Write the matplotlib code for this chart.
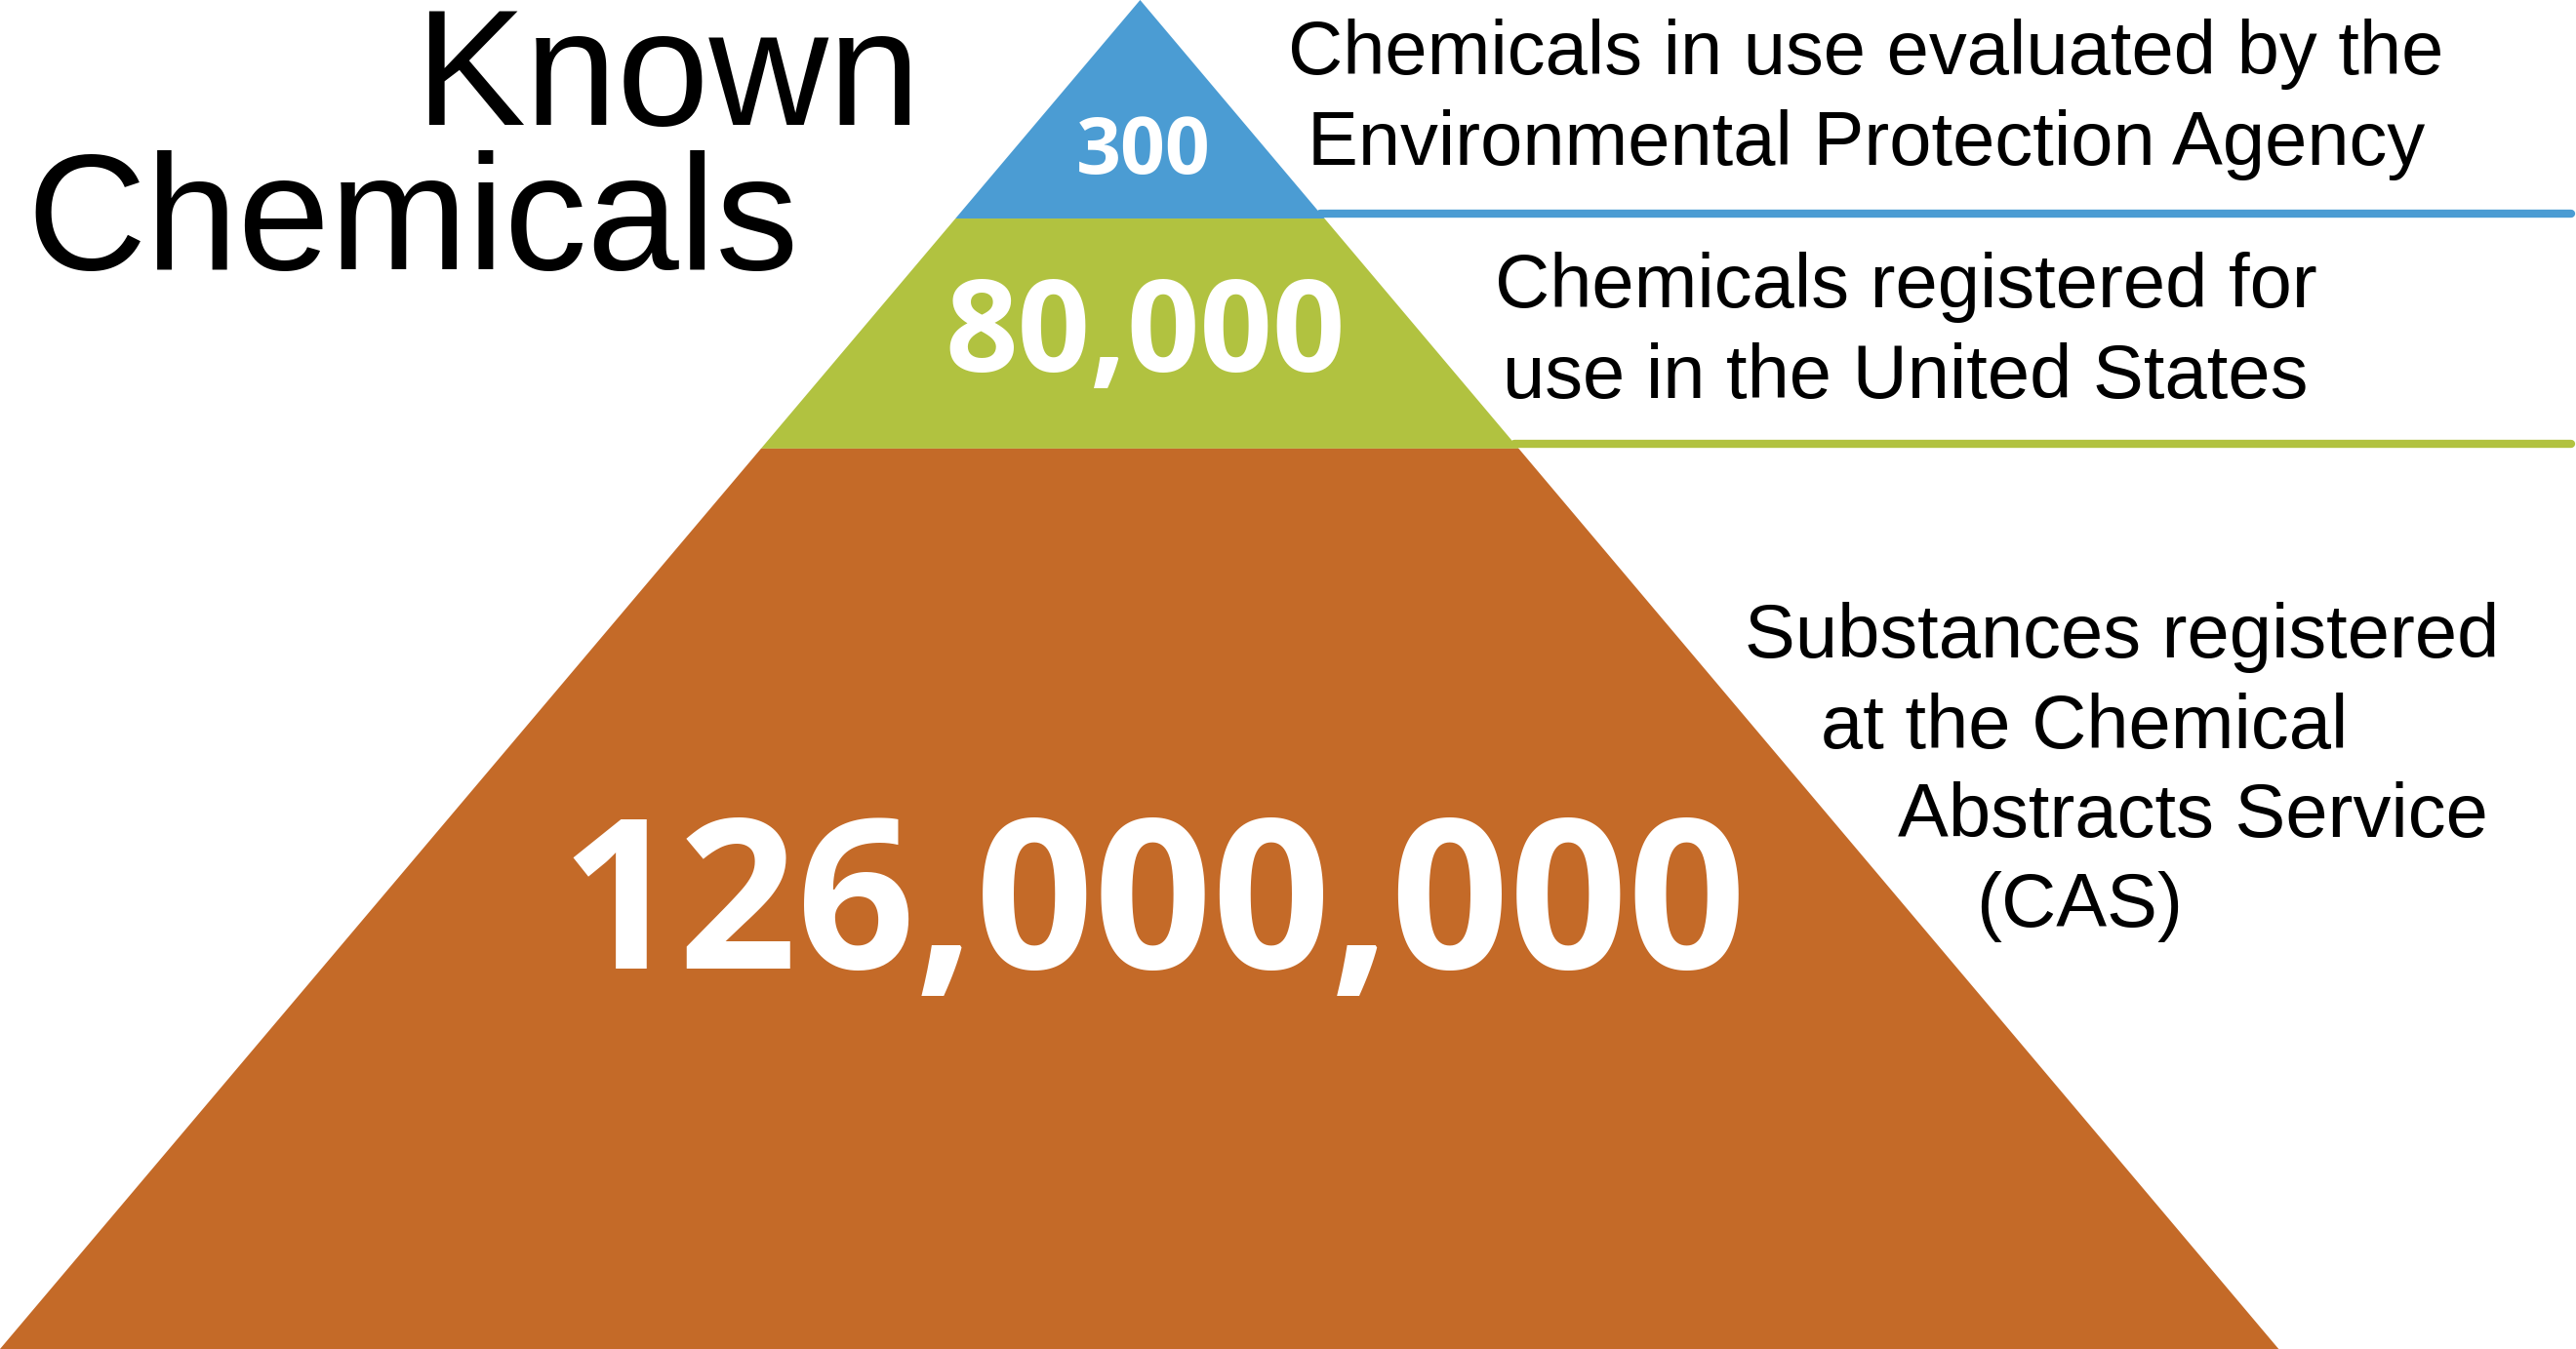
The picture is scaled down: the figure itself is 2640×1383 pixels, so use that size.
import matplotlib.pyplot as plt
from matplotlib.patches import Polygon

# tiers from top to bottom
counts = ['300', '80,000', '126,000,000']
descriptions = [['Chemicals in use evaluated by the', 'Environmental Protection Agency'],
                ['Chemicals registered for', 'use in the United States'],
                ['Substances registered', 'at the Chemical', 'Abstracts Service', '(CAS)']]
colors = ['#4b9cd3', '#b1c240', '#c46a28']
tier_bottoms = [133, 273, 821]   # y of each tier's lower edge (image units, y down)

apex = (694, 0)
base_l, base_r = 0, 1387
H = 821

def edge_x(y):
    t = y / H
    return apex[0] + (base_l - apex[0]) * t, apex[0] + (base_r - apex[0]) * t

fig = plt.figure(figsize=(26.4, 13.83), dpi=100)
ax = fig.add_axes([0, 0, 1, 1])
ax.set_xlim(0, 1568)
ax.set_ylim(821, 0)
ax.axis('off')

top = 0
for col, bot in zip(colors, tier_bottoms):
    lt, rt = edge_x(top)
    lb, rb = edge_x(bot)
    ax.add_patch(Polygon([(lt, top), (rt, top), (rb, bot), (lb, bot)], closed=True,
                         facecolor=col, edgecolor='none'))
    top = bot

# numbers
ax.text(696, 93, counts[0], color='white', fontsize=58, fontweight='bold',
        family='Open Sans', ha='center', va='center')
ax.text(697, 206, counts[1], color='white', fontsize=94, fontweight='bold',
        family='Open Sans', ha='center', va='center')
ax.text(702, 556, counts[2], color='white', fontsize=153, fontweight='bold',
        family='Open Sans', ha='center', va='center')

# leader lines
ax.plot([edge_x(130)[1], 1565], [130, 130], color=colors[0], lw=6, solid_capstyle='round')
ax.plot([edge_x(270)[1], 1565], [270, 270], color=colors[1], lw=6, solid_capstyle='round')

# descriptions
fs = 56
for line, y in zip(descriptions[0], [33, 88]):
    ax.text(1136, y, line, fontsize=fs, family='Liberation Sans', ha='center', va='center')
for line, y in zip(descriptions[1], [175, 230]):
    ax.text(1160, y, line, fontsize=fs, family='Liberation Sans', ha='center', va='center')
for line, x, y in zip(descriptions[2], [1062, 1108, 1155, 1203], [388, 443, 497, 552]):
    ax.text(x, y, line, fontsize=fs, family='Liberation Sans', ha='left', va='center')

ax.text(560, 50, 'Known', fontsize=122, family='Liberation Sans', ha='right', va='center')
ax.text(16, 138, 'Chemicals', fontsize=122, family='Liberation Sans', ha='left', va='center')

fig.savefig('out.png', dpi=100)
